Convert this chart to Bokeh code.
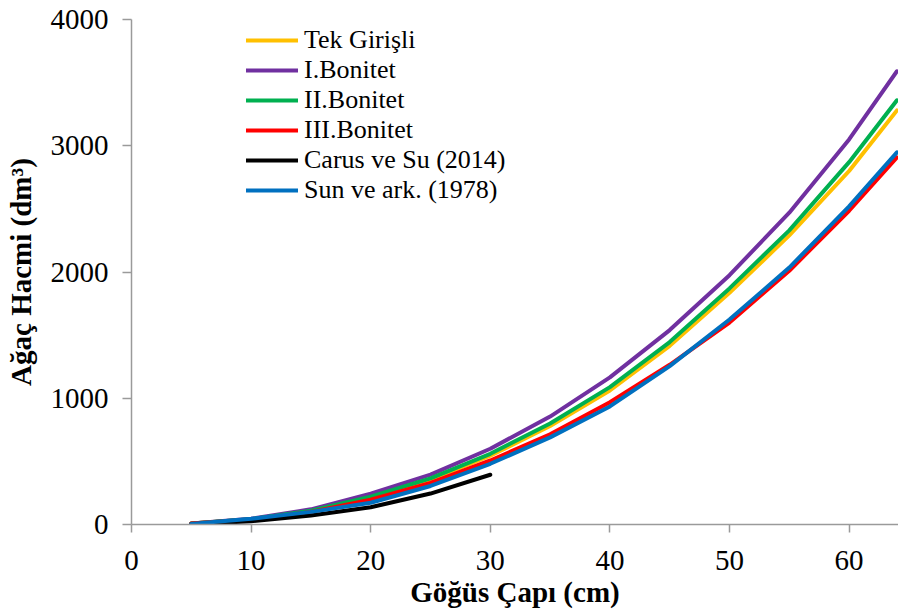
from bokeh.plotting import figure
from bokeh.models import Legend, LegendItem, Range1d, FixedTicker
from bokeh.embed import file_html
from bokeh.resources import INLINE

# Data
dbh = [5, 10, 15, 20, 25, 30, 35, 40, 45, 50, 55, 60, 64]
tek_girisli = [8, 41, 107, 212, 355, 545, 780, 1062, 1415, 1835, 2290, 2800, 3280]
bonitet_1 = [8, 45, 120, 245, 395, 600, 855, 1165, 1540, 1975, 2470, 3050, 3590]
bonitet_2 = [8, 42, 110, 220, 365, 560, 800, 1088, 1445, 1870, 2330, 2870, 3360]
bonitet_3 = [7, 38, 100, 196, 330, 507, 715, 969, 1265, 1600, 2010, 2485, 2908]
dbh_carus = [5, 10, 15, 20, 25, 30]
carus_su = [2, 26, 71, 137, 245, 394]
sun_ark = [5, 45, 100, 172, 305, 481, 690, 935, 1255, 1624, 2035, 2520, 2948]

series_names = ["Tek Giri\u015fli", "I.Bonitet", "II.Bonitet", "III.Bonitet",
                "Carus ve Su (2014)", "Sun ve ark. (1978)"]
series_colors = ["#FFC000", "#7030A0", "#00B050", "#FF0000", "#000000", "#0070C0"]
x_ticks = [0, 10, 20, 30, 40, 50, 60]
y_ticks = [0, 1000, 2000, 3000, 4000]
x_title = "G\u00f6\u011f\u00fcs \u00c7ap\u0131 (cm)"
y_title = "A\u011fa\u00e7 Hacmi (dm\u00b3)"

FONT = "'Liberation Serif', 'Times New Roman', serif"

p = figure(width=898, height=610, output_backend="svg", toolbar_location=None,
           x_range=Range1d(0, 64.13), y_range=Range1d(0, 4000))
p.min_border_left = 131
p.min_border_right = 0
p.min_border_top = 19
p.min_border_bottom = 86
p.outline_line_color = None
p.background_fill_color = "white"
p.border_fill_color = "white"
p.xgrid.visible = False
p.ygrid.visible = False

xs_list = [dbh, dbh, dbh, dbh, dbh_carus, dbh]
ys_list = [tek_girisli, bonitet_1, bonitet_2, bonitet_3, carus_su, sun_ark]
renderers = []
for xs, ys, c in zip(xs_list, ys_list, series_colors):
    r = p.line(xs, ys, line_color=c, line_width=4, line_cap="round", line_join="round")
    renderers.append(r)

axis_color = "#9a9a9a"
for ax in (p.xaxis[0], p.yaxis[0]):
    ax.axis_line_color = axis_color
    ax.axis_line_width = 1.5
    ax.major_tick_line_color = axis_color
    ax.major_tick_line_width = 1.5
    ax.major_tick_in = 0
    ax.minor_tick_line_color = None
    ax.major_label_text_font = FONT
    ax.major_label_text_font_size = "29px"
    ax.major_label_text_color = "black"
    ax.axis_label_text_font = FONT
    ax.axis_label_text_font_size = "29px"
    ax.axis_label_text_font_style = "bold"
    ax.axis_label_text_color = "black"

p.xaxis[0].ticker = FixedTicker(ticks=x_ticks)
p.yaxis[0].ticker = FixedTicker(ticks=y_ticks)
p.xaxis[0].major_tick_out = 8
p.yaxis[0].major_tick_out = 9
p.xaxis[0].major_label_standoff = 18
p.yaxis[0].major_label_standoff = 14
p.xaxis[0].axis_label = x_title
p.xaxis[0].axis_label_standoff = 3
p.yaxis[0].axis_label = y_title
p.yaxis[0].axis_label_standoff = 11

items = [LegendItem(label=n, renderers=[r]) for n, r in zip(series_names, renderers)]
legend = Legend(items=items, location=(115, 319))
legend.label_text_font = FONT
legend.label_text_font_size = "26px"
legend.label_text_color = "black"
legend.label_height = 20
legend.glyph_width = 52
legend.glyph_height = 20
legend.label_standoff = 6
legend.spacing = 0
legend.padding = 0
legend.margin = 0
legend.border_line_alpha = 0
legend.background_fill_alpha = 0
p.add_layout(legend)

open("out.html", "w").write(file_html(p, INLINE))
